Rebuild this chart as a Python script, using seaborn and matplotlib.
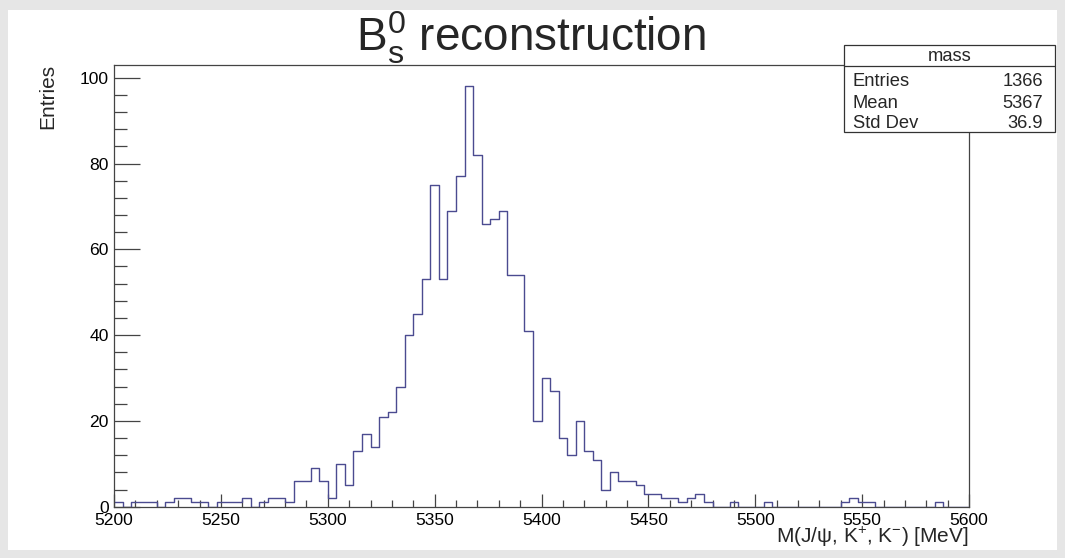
import numpy as np
import pandas as pd
import matplotlib
matplotlib.use("Agg")
import matplotlib.pyplot as plt
from matplotlib.patches import Rectangle
from matplotlib.lines import Line2D
from matplotlib.ticker import MultipleLocator, FixedLocator
import seaborn as sns

# Histogram binning: 100 bins of 4 MeV between 5200 and 5600 MeV
bin_low = 5200.0
bin_high = 5600.0
n_bins = 100

# Entries per bin
counts = [
    1, 0, 1, 1, 1, 0, 1, 2, 2, 1,
    1, 0, 1, 1, 1, 2, 0, 1, 2, 2,
    1, 6, 6, 9, 6, 2, 10, 5, 13, 17,
    14, 21, 22, 28, 40, 45, 53, 75, 53, 69,
    77, 98, 82, 66, 67, 69, 54, 54, 41, 20,
    30, 27, 16, 12, 20, 13, 11, 4, 8, 6,
    6, 5, 3, 3, 2, 2, 1, 2, 3, 1,
    0, 0, 1, 0, 0, 0, 1, 0, 0, 0,
    0, 0, 0, 0, 0, 1, 2, 1, 1, 0,
    0, 0, 0, 0, 0, 0, 1, 0, 0, 0,
]

x_ticks = [5200, 5250, 5300, 5350, 5400, 5450, 5500, 5550, 5600]
y_ticks = [0, 20, 40, 60, 80, 100]

hist_name = "mass"
stats_names = ["Entries", "Mean", "Std Dev"]
stats_values = ["1366", "5367", "36.9"]

title_text = r"B$_{\mathrm{s}}^{0}$ reconstruction"
x_title = r"M(J/ψ, K$^{+}$, K$^{-}$) [MeV]"
y_title = "Entries"

edges = np.linspace(bin_low, bin_high, n_bins + 1)
centers = 0.5 * (edges[:-1] + edges[1:])
df = pd.DataFrame({"mass": centers, "n": counts})

sns.set_theme(style="white")
plt.rcParams["font.family"] = ["Liberation Sans", "DejaVu Sans"]
plt.rcParams["mathtext.fontset"] = "custom"
plt.rcParams["mathtext.rm"] = "Liberation Sans"
plt.rcParams["mathtext.it"] = "Liberation Sans:italic"
plt.rcParams["mathtext.sf"] = "Liberation Sans"
plt.rcParams["mathtext.bf"] = "Liberation Sans:bold"

W, H = 1065, 558
fig = plt.figure(figsize=(W / 100, H / 100), dpi=100, facecolor="#e6e6e6")


def fx(px):
    return px / W


def fy(py):
    return 1 - py / H


# white canvas inside the grey window border
fig.add_artist(Rectangle((fx(8), fy(550)), fx(1057) - fx(8), fy(10) - fy(550),
                         transform=fig.transFigure, facecolor="white",
                         edgecolor="none", zorder=-10))

ax = fig.add_axes([fx(114), fy(506.7), fx(969) - fx(114), fy(65.3) - fy(506.7)])
ax.set_facecolor("white")

sns.histplot(data=df, x="mass", weights="n", bins=n_bins,
             binrange=(bin_low, bin_high), element="step",
             fill=False, color="#4b4b90", linewidth=1.0, ax=ax)

ax.set_xlim(bin_low, bin_high)
ax.set_ylim(0, 1.05 * max(counts))
ax.set_xlabel("")
ax.set_ylabel("")

frame_col = "#444444"
for sp in ax.spines.values():
    sp.set_visible(True)
    sp.set_color(frame_col)
    sp.set_linewidth(0.9)

ax.xaxis.set_major_locator(FixedLocator(x_ticks))
ax.xaxis.set_minor_locator(MultipleLocator(10))
ax.yaxis.set_major_locator(FixedLocator(y_ticks))
ax.yaxis.set_minor_locator(MultipleLocator(4))
ax.set_xticklabels([str(t) for t in x_ticks])
ax.set_yticklabels([str(t) for t in y_ticks])

ax.tick_params(which="both", direction="in", top=False, right=False,
               bottom=True, left=True, color=frame_col, width=0.9,
               labelcolor="black", labelsize=12.6)
ax.tick_params(axis="x", which="major", length=9.4, pad=4.2)
ax.tick_params(axis="x", which="minor", length=4.7)
ax.tick_params(axis="y", which="major", length=18.4, pad=3.6)
ax.tick_params(axis="y", which="minor", length=9.2)

# title, axis titles
fig.text(fx(531.5), fy(52), title_text, ha="center", va="baseline", fontsize=33)
fig.text(fx(969), fy(543), x_title, ha="right", va="baseline", fontsize=15)
fig.text(fx(48), fy(64), y_title, ha="center", va="top", rotation=90, fontsize=15)

# statistics box
bx0, bx1, by0, by1 = 844, 1055, 45, 132
fig.add_artist(Rectangle((fx(bx0), fy(by1)), fx(bx1) - fx(bx0), fy(by0) - fy(by1),
                         transform=fig.transFigure, facecolor="white",
                         edgecolor="#333333", linewidth=0.9, zorder=5))
fig.add_artist(Line2D([fx(bx0), fx(bx1)], [fy(66), fy(66)], transform=fig.transFigure,
                      color="#333333", linewidth=0.9, zorder=6))
fig.text(fx((bx0 + bx1) / 2), fy(60.5), hist_name, ha="center", va="baseline",
         fontsize=13.2, zorder=7)
row_base = [86, 107.5, 128.2]
for name, val, ry in zip(stats_names, stats_values, row_base):
    fig.text(fx(853), fy(ry), name, ha="left", va="baseline", fontsize=13.2, zorder=7)
    fig.text(fx(1043), fy(ry), val, ha="right", va="baseline", fontsize=13.2, zorder=7)

fig.savefig("out.png", dpi=100, facecolor=fig.get_facecolor())
